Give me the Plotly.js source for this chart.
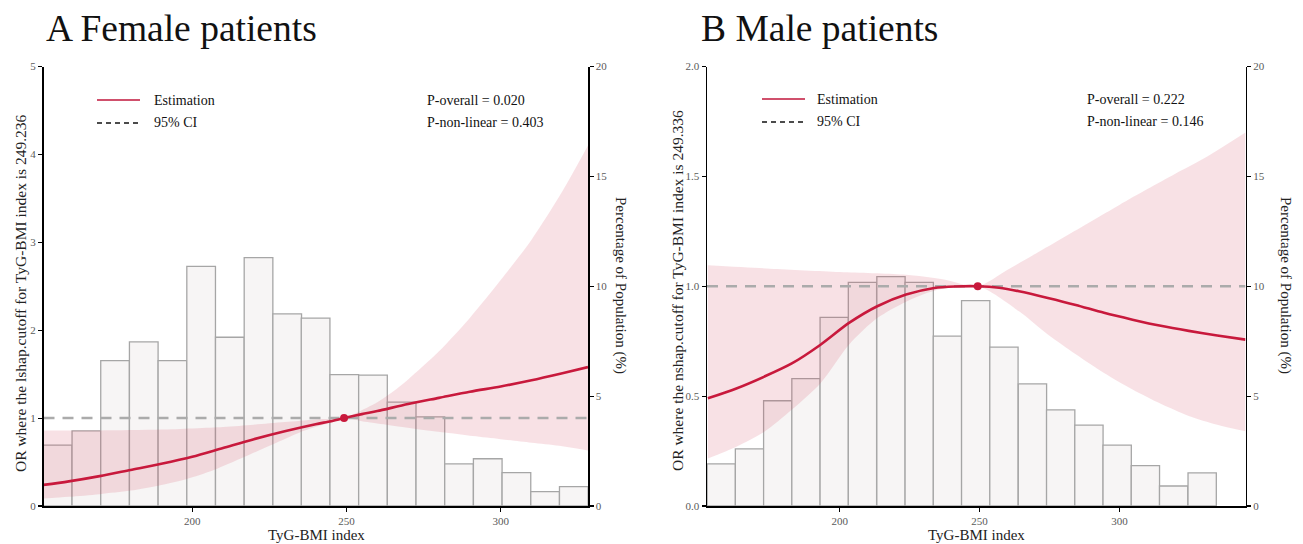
<!DOCTYPE html>
<html>
<head>
<meta charset="utf-8">
<script src="https://cdn.plot.ly/plotly-3.0.1.min.js"></script>
<style>html,body{margin:0;padding:0;background:#fff;}#chart{width:1303px;height:544px;}</style>
</head>
<body>
<div id="chart"></div>
<script>
// ---------------- Data ----------------
// Female panel
const femaleBinCenters = [156.4, 165.7, 175.0, 184.3, 193.6, 202.9, 212.2, 221.5, 230.8, 240.0, 249.3, 258.6, 267.9, 277.2, 286.5, 295.8, 305.1, 314.4, 323.7];
const femaleBinWidth = 9.29;
const femalePct = [2.77, 3.42, 6.62, 7.47, 6.62, 10.9, 7.68, 11.3, 8.74, 8.55, 5.98, 5.96, 4.73, 4.06, 1.92, 2.15, 1.52, 0.65, 0.88];
const femaleEstX = [151.8, 160, 170, 180, 190, 200, 210, 220, 230, 240, 245, 249.236, 255, 260, 270, 280, 290, 300, 310, 320, 328.3];
const femaleEstY = [0.24, 0.28, 0.34, 0.41, 0.48, 0.56, 0.66, 0.76, 0.85, 0.93, 0.965, 1.0, 1.045, 1.08, 1.16, 1.23, 1.30, 1.36, 1.43, 1.51, 1.58];
const femaleUpperX = [151.8, 170, 190, 210, 220, 230, 240, 249.236, 255, 260, 265, 270, 280, 290, 300, 310, 320, 328.3];
const femaleUpperY = [0.86, 0.86, 0.87, 0.90, 0.925, 0.955, 0.985, 1.0, 1.09, 1.18, 1.30, 1.44, 1.76, 2.14, 2.57, 3.03, 3.58, 4.1];
const femaleLowerX = [151.8, 160, 170, 180, 190, 198, 207, 217, 226, 235, 241, 245.5, 249.236, 255, 263, 272, 282, 291, 300, 310, 319, 328.3];
const femaleLowerY = [0.085, 0.105, 0.135, 0.175, 0.24, 0.305, 0.41, 0.56, 0.70, 0.84, 0.91, 0.955, 1.0, 0.965, 0.925, 0.88, 0.835, 0.795, 0.76, 0.72, 0.685, 0.63];
const femaleRef = [249.236];
const femaleXRange = [151.8, 328.3];
const femaleP = ["P-overall = 0.020", "P-non-linear = 0.403"];

// Male panel
const maleBinCenters = [157.6, 167.7, 177.8, 187.9, 198.0, 208.1, 218.3, 228.4, 238.5, 248.6, 258.7, 268.9, 279.0, 289.1, 299.2, 309.3, 319.4, 329.6];
const maleBinWidth = 10.12;
const malePct = [1.92, 2.60, 4.79, 5.80, 8.58, 10.18, 10.44, 10.18, 7.73, 9.35, 7.23, 5.56, 4.37, 3.68, 2.77, 1.84, 0.91, 1.51];
const maleEstX = [152.8, 163, 173, 183, 193.1, 203.3, 213.4, 223.7, 233.8, 241.5, 249.336, 257, 264.1, 274.4, 284.4, 294.5, 304.7, 314.8, 324.8, 335, 345.1];
const maleEstY = [0.49, 0.535, 0.589, 0.65, 0.734, 0.833, 0.909, 0.962, 0.992, 0.999, 1.0, 0.993, 0.977, 0.947, 0.915, 0.879, 0.848, 0.82, 0.797, 0.776, 0.757];
const maleUpperX = [152.8, 175, 200, 222.7, 237.7, 249.336, 260, 270, 280, 290, 300, 310, 320, 330, 345.1];
const maleUpperY = [1.095, 1.08, 1.065, 1.053, 1.03, 1.0, 1.075, 1.148, 1.222, 1.296, 1.37, 1.442, 1.512, 1.58, 1.70];
const maleLowerX = [152.8, 163, 173, 183, 193.1, 203.3, 213.4, 223.7, 233.8, 249.336, 264.1, 274.4, 284.4, 294.5, 304.7, 314.8, 324.8, 335, 345.1];
const maleLowerY = [0.216, 0.27, 0.338, 0.44, 0.559, 0.734, 0.855, 0.93, 0.98, 1.0, 0.886, 0.78, 0.69, 0.605, 0.53, 0.465, 0.41, 0.37, 0.34];
const maleRef = [249.336];
const maleXRange = [152.5, 345.1];
const maleP = ["P-overall = 0.222", "P-non-linear = 0.146"];

const refOR = 1;
const xTicks = [200, 250, 300];
const pctTicks = [0, 5, 10, 15, 20];
const femaleORTicks = [0, 1, 2, 3, 4, 5];
const maleORTicks = [0, 0.5, 1, 1.5, 2];
const legendLabels = ["Estimation", "95% CI"];
const xTitle = "TyG-BMI index";

// ---------------- Styles ----------------
const SERIF = "'Liberation Serif', 'Times New Roman', serif";
const RED = "#c8193c";
const BAND = "rgba(214,70,95,0.16)";
const BAR_FILL = "#f7f5f5";
const BAR_LINE = "#a6a6a6";
const W = 1303, H = 544;
const px = v => v / W;
const py = v => 1 - v / H;

function panelTraces(xa, yPct, yOR, centers, width, pct, lx, ly, ux, uy, ex, ey, ref, xr) {
  return [
    {type: 'bar', x: centers, y: pct, width: width, xaxis: xa, yaxis: yPct,
     marker: {color: BAR_FILL, line: {color: BAR_LINE, width: 1.3}}, hoverinfo: 'skip', showlegend: false},
    {type: 'scatter', mode: 'lines', x: lx, y: ly, xaxis: xa, yaxis: yOR,
     line: {width: 0, shape: 'spline', smoothing: 0.8, color: 'rgba(0,0,0,0)'}, showlegend: false, hoverinfo: 'skip'},
    {type: 'scatter', mode: 'lines', x: ux, y: uy, xaxis: xa, yaxis: yOR, fill: 'tonexty', fillcolor: BAND,
     line: {width: 0, shape: 'spline', smoothing: 0.8, color: 'rgba(0,0,0,0)'}, showlegend: false, hoverinfo: 'skip'},
    {type: 'scatter', mode: 'lines', x: xr, y: [refOR, refOR], xaxis: xa, yaxis: yOR,
     line: {color: '#ababab', width: 2.5, dash: '11px,8px'}, showlegend: false, hoverinfo: 'skip'},
    {type: 'scatter', mode: 'lines', x: ex, y: ey, xaxis: xa, yaxis: yOR,
     line: {color: RED, width: 2.6, shape: 'spline', smoothing: 0.8}, showlegend: false},
    {type: 'scatter', mode: 'markers', x: ref, y: [refOR], xaxis: xa, yaxis: yOR,
     marker: {color: RED, size: 8}, showlegend: false}
  ];
}

const data = [].concat(
  panelTraces('x', 'y', 'y2', femaleBinCenters, femaleBinWidth, femalePct, femaleLowerX, femaleLowerY, femaleUpperX, femaleUpperY, femaleEstX, femaleEstY, femaleRef, femaleXRange),
  panelTraces('x2', 'y3', 'y4', maleBinCenters, maleBinWidth, malePct, maleLowerX, maleLowerY, maleUpperX, maleUpperY, maleEstX, maleEstY, maleRef, maleXRange)
);

const tickFont = {family: SERIF, size: 11, color: '#5a5a5a'};
const axisCommon = {showline: true, linecolor: '#000', linewidth: 1.5, ticks: 'outside', ticklen: 4, tickwidth: 1.2,
  tickcolor: '#000', tickfont: tickFont, showgrid: false, zeroline: false, fixedrange: true, automargin: false};
const yDom = [py(506), py(66.5)];
const txt = (t, x, y, size, extra) => Object.assign({text: t, xref: 'paper', yref: 'paper', x: px(x), y: py(y),
  xanchor: 'left', yanchor: 'middle', showarrow: false, font: {family: SERIF, size: size, color: '#111'}}, extra || {});

const layout = {
  width: W, height: H, autosize: false,
  margin: {l: 0, r: 0, t: 0, b: 0, pad: 0},
  paper_bgcolor: '#fff', plot_bgcolor: 'rgba(0,0,0,0)',
  showlegend: false, barmode: 'overlay', bargap: 0,
  font: {family: SERIF},
  xaxis: Object.assign({}, axisCommon, {domain: [px(43.5), px(588)], range: femaleXRange, anchor: 'y', tickvals: xTicks}),
  yaxis: Object.assign({}, axisCommon, {domain: yDom, range: [0, 20], anchor: 'x', side: 'right', tickvals: pctTicks}),
  yaxis2: Object.assign({}, axisCommon, {domain: yDom, range: [0, 5], anchor: 'x', side: 'left', overlaying: 'y', tickvals: femaleORTicks}),
  xaxis2: Object.assign({}, axisCommon, {domain: [px(707), px(1245.5)], range: maleXRange, anchor: 'y3', tickvals: xTicks}),
  yaxis3: Object.assign({}, axisCommon, {domain: yDom, range: [0, 20], anchor: 'x2', side: 'right', tickvals: pctTicks}),
  yaxis4: Object.assign({}, axisCommon, {domain: yDom, range: [0, 2], anchor: 'x2', side: 'left', overlaying: 'y3', tickvals: maleORTicks, tickformat: '.1f'}),
  annotations: [
    txt('A Female patients', 44, 28, 37.5),
    txt('B Male patients', 699, 28, 37.5),
    txt(xTitle, 316, 535, 15, {xanchor: 'center', font: {family: SERIF, size: 15, color: '#222'}}),
    txt(xTitle, 976, 535, 15, {xanchor: 'center', font: {family: SERIF, size: 15, color: '#222'}}),
    txt('OR where the lshap.cutoff for TyG-BMI index is 249.236', 20, 293, 15.5, {textangle: -90, xanchor: 'center', font: {family: SERIF, size: 15.5, color: '#222'}}),
    txt('OR where the nshap.cutoff for TyG-BMI index is 249.336', 677, 291, 15.5, {textangle: -90, xanchor: 'center', font: {family: SERIF, size: 15.5, color: '#222'}}),
    txt('Percentage of Population (%)', 621, 285, 15, {textangle: 90, xanchor: 'center', font: {family: SERIF, size: 15, color: '#222'}}),
    txt('Percentage of Population (%)', 1286, 285, 15, {textangle: 90, xanchor: 'center', font: {family: SERIF, size: 15, color: '#222'}}),
    txt(legendLabels[0], 152, 100, 14),
    txt(legendLabels[1], 152, 123, 14),
    txt(legendLabels[0], 815, 99, 14),
    txt(legendLabels[1], 815, 122, 14),
    txt(femaleP[0], 425, 100, 14),
    txt(femaleP[1], 425, 123, 14),
    txt(maleP[0], 1085, 99, 14),
    txt(maleP[1], 1085, 122, 14)
  ],
  shapes: [
    {type: 'line', xref: 'paper', yref: 'paper', x0: px(97), x1: px(140), y0: py(100), y1: py(100), line: {color: '#d0506c', width: 2}},
    {type: 'line', xref: 'paper', yref: 'paper', x0: px(97), x1: px(140), y0: py(123), y1: py(123), line: {color: '#111', width: 1.6, dash: '5px,4px'}},
    {type: 'line', xref: 'paper', yref: 'paper', x0: px(762), x1: px(805), y0: py(99), y1: py(99), line: {color: '#d0506c', width: 2}},
    {type: 'line', xref: 'paper', yref: 'paper', x0: px(762), x1: px(805), y0: py(122), y1: py(122), line: {color: '#111', width: 1.6, dash: '5px,4px'}}
  ]
};

Plotly.newPlot('chart', data, layout, {displayModeBar: false, staticPlot: true});
</script>
</body>
</html>
